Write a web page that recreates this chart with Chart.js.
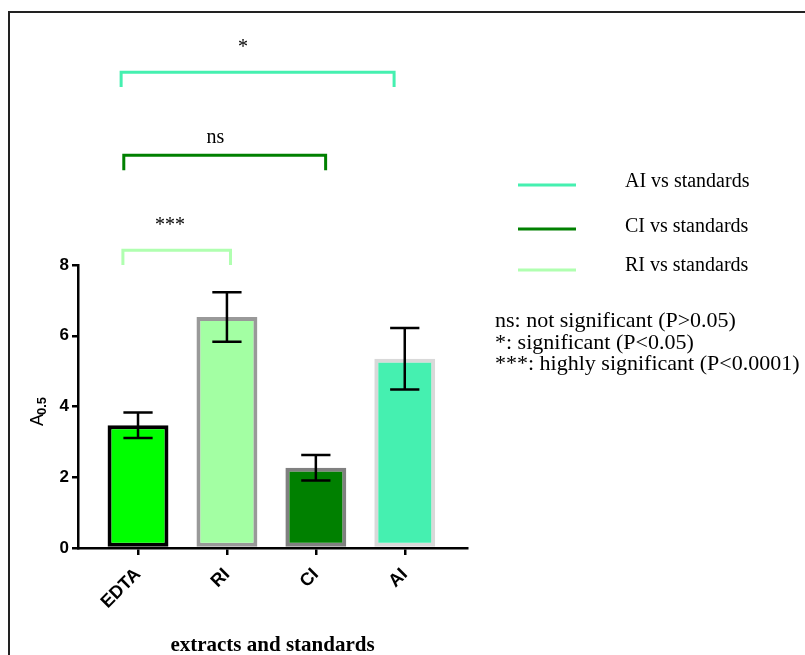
<!DOCTYPE html>
<html><head><meta charset="utf-8">
<script src="https://cdn.jsdelivr.net/npm/chart.js@4/dist/chart.umd.min.js"></script>
<style>html,body{margin:0;padding:0;background:#fff;overflow:hidden}#wrap{width:805px;height:655px;position:relative}</style>
</head><body><div id="wrap"><canvas id="c" width="805" height="655"></canvas></div>
<script>
// ---- data ----
const categories = ["EDTA", "RI", "CI", "AI"];
const meanValues = [3.47, 6.53, 2.27, 5.35];
const errorValues = [0.36, 0.7, 0.36, 0.87];
const yTicks = [0, 2, 4, 6, 8];
const comparisonNames = ["AI vs standards", "CI vs standards", "RI vs standards"];
const comparisonTargets = [3, 2, 1];          // compared against EDTA (index 0)
const comparisonLabels = ["*", "ns", "***"];
const noteLines = ["ns: not significant (P>0.05)", "*: significant (P<0.05)", "***: highly significant (P<0.0001)"];

// ---- styles / layout ----
const barFill = ["#00ff00", "#a3ffa3", "#008000", "#45f0b0"];
const barEdge = ["#000000", "#999999", "#808080", "#d9d9d9"];
const compColors = ["#45f0b0", "#008000", "#b0ffb0"];
const bracketLayout = [
  {level: 13.45, drop: 0.42, startOff: -0.19, endOff: -0.12, labelX: 1.18, labelY: 14.15},
  {level: 11.1,  drop: 0.42, startOff: -0.16, endOff: 0.11,  labelX: 0.87, labelY: 11.6},
  {level: 8.42,  drop: 0.42, startOff: -0.17, endOff: 0.04,  labelX: 0.36, labelY: 9.1}
];
const serif = "'Liberation Serif', 'Times New Roman', serif";
const sans = "'Liberation Sans', Arial, sans-serif";

const extras = {
  id: 'extras',
  beforeDraw(chart) {
    const ctx = chart.ctx;
    ctx.save();
    ctx.fillStyle = '#fff';
    ctx.fillRect(0, 0, chart.width, chart.height);
    ctx.strokeStyle = '#222';
    ctx.lineWidth = 2;
    ctx.beginPath();
    ctx.moveTo(9, 660); ctx.lineTo(9, 12); ctx.lineTo(810, 12);
    ctx.stroke();
    ctx.restore();
  },
  afterDatasetsDraw(chart) {
    const ctx = chart.ctx;
    const xs = chart.scales.x, ys = chart.scales.y;
    const meta = chart.getDatasetMeta(0);
    ctx.save();
    // error bars
    ctx.strokeStyle = '#000';
    ctx.lineWidth = 2.5;
    meanValues.forEach((m, i) => {
      const x = xs.getPixelForValue(i);
      const half = meta.data[i].width * 0.24;
      const yt = ys.getPixelForValue(m + errorValues[i]);
      const yb = ys.getPixelForValue(m - errorValues[i]);
      ctx.beginPath();
      ctx.moveTo(x, yt); ctx.lineTo(x, yb);
      ctx.moveTo(x - half, yt); ctx.lineTo(x + half, yt);
      ctx.moveTo(x - half, yb); ctx.lineTo(x + half, yb);
      ctx.stroke();
    });
    // significance brackets
    comparisonTargets.forEach((t, k) => {
      const L = bracketLayout[k];
      const x1 = xs.getPixelForValue(0 + L.startOff);
      const x2 = xs.getPixelForValue(t + L.endOff);
      const y = ys.getPixelForValue(L.level);
      const yd = ys.getPixelForValue(L.level - L.drop);
      ctx.strokeStyle = compColors[k];
      ctx.lineWidth = 3;
      ctx.beginPath();
      ctx.moveTo(x1, yd); ctx.lineTo(x1, y); ctx.lineTo(x2, y); ctx.lineTo(x2, yd);
      ctx.stroke();
      ctx.fillStyle = '#000';
      ctx.font = '20px ' + serif;
      ctx.textAlign = 'center';
      ctx.textBaseline = 'middle';
      ctx.fillText(comparisonLabels[k], xs.getPixelForValue(L.labelX), ys.getPixelForValue(L.labelY));
    });
    // legend
    const legY = [185, 229, 270];
    const legTextY = [187, 232, 271];
    comparisonNames.forEach((n, k) => {
      ctx.strokeStyle = compColors[k];
      ctx.lineWidth = 3;
      ctx.beginPath();
      ctx.moveTo(518, legY[k]); ctx.lineTo(576, legY[k]);
      ctx.stroke();
      ctx.fillStyle = '#000';
      ctx.font = '20px ' + serif;
      ctx.textAlign = 'left';
      ctx.textBaseline = 'alphabetic';
      ctx.fillText(n, 625, legTextY[k]);
    });
    // notes
    const noteY = [327, 349, 370];
    ctx.font = '22px ' + serif;
    noteLines.forEach((t, k) => ctx.fillText(t, 495, noteY[k]));
    // y title with subscript
    ctx.translate(43, 426);
    ctx.rotate(-Math.PI / 2);
    ctx.font = '18px ' + sans;
    ctx.fillText('A', 0, 0);
    const w = ctx.measureText('A').width;
    ctx.font = 'bold 13px ' + sans;
    ctx.fillText('0.5', w - 1, 3);
    ctx.restore();
  }
};

new Chart(document.getElementById('c'), {
  type: 'bar',
  data: {
    datasets: [{
      data: categories.map((c, i) => ({x: i, y: meanValues[i]})),
      backgroundColor: barFill,
      borderColor: barEdge,
      borderWidth: 4,
      borderSkipped: false,
      barPercentage: 0.685,
      categoryPercentage: 1
    }]
  },
  options: {
    responsive: false,
    animation: false,
    devicePixelRatio: 1,
    layout: {padding: {left: 0, top: 265, right: 338, bottom: 0}},
    plugins: {legend: {display: false}, tooltip: {enabled: false}},
    scales: {
      x: {
        type: 'linear',
        offset: false,
        min: -0.675, max: 3.7,
        afterBuildTicks: s => { s.ticks = categories.map((c, i) => ({value: i})); },
        afterFit: s => { s.height = 107; },
        ticks: {
          autoSkip: false,
          minRotation: 45, maxRotation: 45,
          callback: v => categories[v],
          color: '#000',
          font: {family: sans, weight: 'bold', size: 18},
          padding: 9
        },
        grid: {display: true, offset: false, drawOnChartArea: false, drawTicks: true, tickLength: 7, color: '#000', lineWidth: 2.5},
        border: {display: true, color: '#000', width: 2.5},
        title: {display: true, text: 'extracts and standards', color: '#000',
                font: {family: serif, weight: 'bold', size: 21}, padding: {top: 0, bottom: -3}}
      },
      y: {
        min: 0, max: 8,
        afterBuildTicks: s => { s.ticks = yTicks.map(v => ({value: v})); },
        afterFit: s => { s.width = 78; },
        ticks: {color: '#000', font: {family: sans, weight: 'bold', size: 17}, padding: 3},
        grid: {display: true, drawOnChartArea: false, drawTicks: true, tickLength: 6, color: '#000', lineWidth: 2.5},
        border: {display: true, color: '#000', width: 2.5}
      }
    }
  },
  plugins: [extras]
});
</script>
</body></html>
